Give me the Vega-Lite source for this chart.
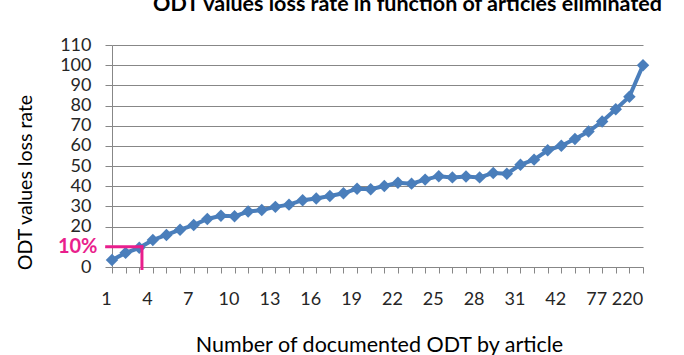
{
  "$schema": "https://vega.github.io/schema/vega-lite/v6.json",
  "width": 531,
  "height": 222,
  "autosize": {"type": "none"},
  "padding": {"left": 112, "top": 45, "right": 41, "bottom": 88},
  "background": "white",
  "config": {
    "view": {"stroke": null},
    "font": "Lato",
    "axis": {"labelFont": "Lato", "titleFont": "Lato"}
  },
  "title": {
    "text": "ODT values loss rate in function of articles eliminated",
    "font": "Lato",
    "fontSize": 21.5,
    "fontWeight": "bold",
    "color": "#000000",
    "anchor": "middle",
    "dx": 30,
    "offset": 21
  },
  "datasets": {
    "series": [
      {"idx": 0, "articles": "1", "loss": 3.5},
      {"idx": 1, "articles": "2", "loss": 7.0},
      {"idx": 2, "articles": "3", "loss": 9.5},
      {"idx": 3, "articles": "4", "loss": 13.4},
      {"idx": 4, "articles": "5", "loss": 15.9},
      {"idx": 5, "articles": "6", "loss": 18.5},
      {"idx": 6, "articles": "7", "loss": 20.8},
      {"idx": 7, "articles": "8", "loss": 23.8},
      {"idx": 8, "articles": "9", "loss": 25.4},
      {"idx": 9, "articles": "10", "loss": 25.1},
      {"idx": 10, "articles": "11", "loss": 27.5},
      {"idx": 11, "articles": "12", "loss": 28.2},
      {"idx": 12, "articles": "13", "loss": 29.8},
      {"idx": 13, "articles": "14", "loss": 30.9},
      {"idx": 14, "articles": "15", "loss": 33.1},
      {"idx": 15, "articles": "16", "loss": 33.9},
      {"idx": 16, "articles": "17", "loss": 35.2},
      {"idx": 17, "articles": "18", "loss": 36.5},
      {"idx": 18, "articles": "19", "loss": 38.8},
      {"idx": 19, "articles": "20", "loss": 38.5},
      {"idx": 20, "articles": "21", "loss": 40.1},
      {"idx": 21, "articles": "22", "loss": 41.7},
      {"idx": 22, "articles": "23", "loss": 41.3},
      {"idx": 23, "articles": "24", "loss": 43.3},
      {"idx": 24, "articles": "25", "loss": 45.0},
      {"idx": 25, "articles": "26", "loss": 44.4},
      {"idx": 26, "articles": "27", "loss": 44.8},
      {"idx": 27, "articles": "28", "loss": 44.4},
      {"idx": 28, "articles": "29", "loss": 46.6},
      {"idx": 29, "articles": "30", "loss": 46.2},
      {"idx": 30, "articles": "31", "loss": 50.7},
      {"idx": 31, "articles": "33", "loss": 53.2},
      {"idx": 32, "articles": "36", "loss": 57.8},
      {"idx": 33, "articles": "42", "loss": 60.1},
      {"idx": 34, "articles": "50", "loss": 63.4},
      {"idx": 35, "articles": "60", "loss": 67.1},
      {"idx": 36, "articles": "77", "loss": 72.1},
      {"idx": 37, "articles": "100", "loss": 78.2},
      {"idx": 38, "articles": "150", "loss": 84.4},
      {"idx": 39, "articles": "220", "loss": 100}
    ],
    "marker": [
      {"xa": -0.5, "xb": 2.3, "loss": 10, "loss2": 10},
      {"xa": 2.2, "xb": 2.2, "loss": 10.7, "loss2": -1.5}
    ]
  },
  "encoding": {
    "y": {
      "field": "loss",
      "type": "quantitative",
      "scale": {"domain": [0, 110], "nice": false, "zero": true},
      "title": "ODT values loss rate",
      "axis": {
        "values": [0, 10, 20, 30, 40, 50, 60, 70, 80, 90, 100, 110],
        "labelOverlap": false,
        "labelExpr": "datum.value == 10 ? '10%' : datum.label",
        "labelFontSize": {"condition": {"test": "datum.value == 10", "value": 20}, "value": 18},
        "labelFontWeight": {"condition": {"test": "datum.value == 10", "value": "bold"}, "value": "normal"},
        "labelColor": {"condition": {"test": "datum.value == 10", "value": "#E91E8C"}, "value": "#262626"},
        "labelPadding": {"condition": {"test": "datum.value == 10", "value": 8}, "value": 14},
        "tickColor": "#878787",
        "tickSize": 7,
        "domainColor": "#878787",
        "gridColor": "#878787",
        "gridWidth": 1.2,
        "titleFontSize": 19.5,
        "titleFontWeight": "normal",
        "titleColor": "#000000",
        "titleX": -87,
        "titleY": 137,
        "titleBaseline": "middle",
        "titleAlign": "center"
      }
    }
  },
  "layer": [
    {
      "data": {"name": "series"},
      "mark": {
        "type": "line",
        "color": "#4A7EBB",
        "strokeWidth": 4,
        "point": {"shape": "diamond", "size": 155, "filled": true, "color": "#4A7EBB", "opacity": 1}
      },
      "encoding": {
        "x": {
          "field": "articles",
          "type": "ordinal",
          "sort": {"field": "idx"},
          "scale": {"type": "point", "padding": 0},
          "title": "Number of documented ODT by article",
          "axis": {
            "labelAngle": 0,
            "labelOverlap": false,
            "labelExpr": "indexof(['1','4','7','10','13','16','19','22','25','28','31','42','77','220'], datum.value) >= 0 ? datum.label : ''",
            "labelFontSize": 18,
            "labelColor": "#262626",
            "labelPadding": 17,
            "labelOffset": {"condition": {"test": "datum.value == '220'", "value": -16}, "value": -6},
            "tickColor": "#878787",
            "tickSize": 6,
            "domainColor": "#878787",
            "grid": false,
            "titleFontSize": 21.5,
            "titleFontWeight": "normal",
            "titleColor": "#000000",
            "titlePadding": 26,
            "titleX": 267
          }
        }
      }
    },
    {
      "data": {"name": "marker"},
      "mark": {"type": "rule", "color": "#E91E8C", "strokeWidth": 3},
      "encoding": {
        "x": {"field": "xa", "type": "quantitative", "scale": {"domain": [0, 39], "nice": false, "zero": false}, "axis": null},
        "x2": {"field": "xb"},
        "y2": {"field": "loss2"}
      }
    }
  ],
  "resolve": {"scale": {"x": "independent"}}
}
